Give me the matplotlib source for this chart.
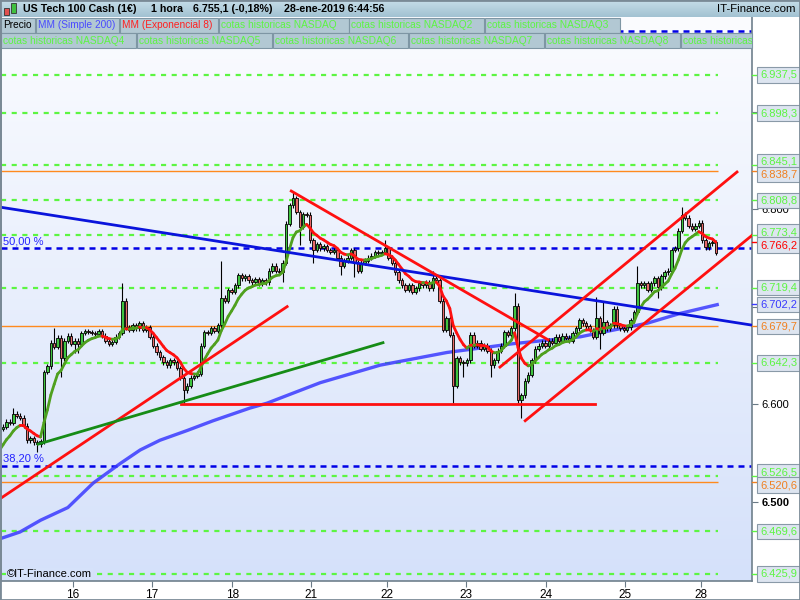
import numpy as np
import pandas as pd
import matplotlib
matplotlib.use('Agg')
import matplotlib.pyplot as plt
import matplotlib.transforms as mtrans
from matplotlib.patches import Rectangle
from matplotlib.collections import LineCollection
from matplotlib.colors import LinearSegmentedColormap

plt.rcParams['font.family'] = ['Liberation Sans', 'DejaVu Sans']

# hourly closes, US Tech 100 Cash, 16-28 ene 2019 (open = previous close)
closes = [6577, 6582, 6581, 6590, 6588, 6586, 6578, 6563, 6565, 6561,
          6559, 6562, 6633, 6639, 6663, 6659, 6668, 6647, 6665, 6670,
          6662, 6665, 6662, 6673, 6675, 6674, 6673, 6672, 6675, 6670,
          6665, 6662, 6664, 6669, 6673, 6706, 6679, 6676, 6681, 6678,
          6683, 6676, 6679, 6669, 6660, 6653, 6648, 6643, 6640, 6645,
          6643, 6637, 6627, 6614, 6619, 6627, 6629, 6631, 6660, 6674,
          6673, 6678, 6675, 6681, 6709, 6706, 6717, 6715, 6722, 6732,
          6729, 6731, 6727, 6725, 6728, 6724, 6727, 6725, 6737, 6742,
          6737, 6735, 6745, 6785, 6804, 6811, 6797, 6782, 6795, 6794,
          6768, 6758, 6764, 6760, 6762, 6758, 6756, 6758, 6750, 6742,
          6747, 6750, 6758, 6745, 6737, 6745, 6747, 6750, 6752, 6756,
          6755, 6756, 6760, 6750, 6745, 6735, 6727, 6722, 6717, 6722,
          6715, 6719, 6724, 6722, 6725, 6719, 6729, 6727, 6706, 6676,
          6688, 6671, 6619, 6647, 6643, 6642, 6645, 6671, 6660, 6663,
          6657, 6660, 6655, 6640, 6645, 6655, 6660, 6674, 6671, 6678,
          6701, 6604, 6609, 6624, 6630, 6645, 6657, 6660, 6663, 6660,
          6665, 6663, 6669, 6665, 6670, 6668, 6665, 6673, 6678, 6686,
          6683, 6680, 6676, 6669, 6688, 6673, 6684, 6678, 6681, 6698,
          6681, 6678, 6676, 6679, 6686, 6694, 6724, 6722, 6724, 6717,
          6724, 6729, 6720, 6731, 6735, 6737, 6758, 6760, 6778, 6794,
          6791, 6783, 6780, 6783, 6786, 6768, 6761, 6765, 6766, 6755]
first_open = 6575
# long wicks (bar index -> price)
wick_high = {3: 6596, 15: 6678, 35: 6724, 64: 6747, 85: 6817, 112: 6768,
             126: 6737, 150: 6714, 174: 6710, 176: 6706, 186: 6742, 199: 6802}
wick_low = {10: 6551, 17: 6628, 21: 6652, 22: 6652, 53: 6601, 82: 6725,
            87: 6763, 91: 6745, 99: 6732, 103: 6730, 132: 6601, 135: 6628,
            143: 6628, 152: 6586, 175: 6657, 192: 6709}
ema_seed = 6553

# MM simple 200
sma_bar = [-0.9, 5, 11, 19, 26.4, 34.3, 40.2, 46, 54, 61.6, 72.4, 77.4,
           93, 110.6, 130.2, 149.6, 169.2, 188.9, 198.5, 209.4]
sma_val = [6462, 6469, 6481, 6494, 6519, 6539, 6553, 6563, 6573, 6583, 6596, 6601,
           6622, 6640, 6653, 6662, 6669, 6683, 6693, 6702]

day_ticks = [20.5, 43.7, 67.2, 90.3, 112.6, 135.8, 159.2, 182.4, 204.7]
day_labels = ['16', '17', '18', '21', '22', '23', '24', '25', '28']

green_levels = [6937.5, 6898.3, 6845.1, 6808.8, 6773.4, 6719.4, 6642.3, 6526.5, 6469.6, 6425.9]
orange_levels = [6838.7, 6679.7, 6520.6]
fib_levels = [6982.6, 6759.7, 6536.9]
fib_names = ['', '50,00 %', '38,20 %']   # 61,8 % label is hidden under the legend

trend_bars = [(-0.9, 219.6), (-0.9, 83.3), (84.5, 159.8), (52.2, 173.6),
              (145.7, 215.2), (153.1, 219.6), (10.3, 111.4)]
trend_prices = [(6802, 6681), (6503, 6700), (6818.5, 6666), (6600, 6600),
                (6638, 6838), (6583, 6773), (6559, 6663)]
trend_kind = ['blue', 'red', 'red', 'red', 'red', 'red', 'green']

last_sma = 6702.2
last_ema = 6766.2

GREEN_LV = '#5cf542'
col_kind = {'blue': '#0a14dc', 'red': '#ff1010', 'green': '#168c16'}


def fmt(v, dec=1):
    s = f"{v:,.{dec}f}"
    return s.replace(',', 'X').replace('.', ',').replace('X', '.')


fig = plt.figure(figsize=(8, 6), dpi=100)
fig.patch.set_facecolor('white')
ax = fig.add_axes([1 / 800, 19 / 600, 751 / 800, 564 / 600])
x0, x1 = -0.6, 219.6
y0, y1 = 6418.7, 6996.9

# background gradient
bg = LinearSegmentedColormap.from_list('bg', ['#fbfcff', '#d5e1fa'])
ax.imshow(np.linspace(0, 1, 256).reshape(-1, 1), cmap=bg, aspect='auto',
          extent=[x0, x1, y0, y1], zorder=0)

n = len(closes)
x = np.arange(n)
o = np.array([first_open] + closes[:-1], float)
c = np.array(closes, float)
hi = np.array([wick_high.get(i, max(o[i], c[i]) + 2.5) for i in range(n)])
lo = np.array([wick_low.get(i, min(o[i], c[i]) - 2.5) for i in range(n)])
up = c >= o

# levels
for lvl in green_levels:
    ax.plot([x0, n - 0.5], [lvl, lvl], color=GREEN_LV, lw=1.6,
            ls=(0, (2.3, 2.5)), zorder=1.5)
ax.hlines(orange_levels, x0, n - 0.5, colors='#ff8a1e', lw=1, zorder=1.6)
for lvl, name in zip(fib_levels, fib_names):
    ax.axhline(lvl, color='#0000e6', lw=1.8, ls=(0, (2.4, 2.0)), zorder=1.7)
    if name:
        ax.annotate(name, xy=(0, lvl), xycoords=('axes fraction', 'data'),
                    xytext=(1.5, 1.5), textcoords='offset points', fontsize=8,
                    color='#2424ff', va='bottom', zorder=2)

# SMA 200
ax.plot(sma_bar, sma_val, color='#3a3aff', lw=2.4, alpha=0.85, zorder=2.5)

# candles
ax.vlines(x, lo, hi, color='black', lw=0.8, zorder=3)
ax.bar(x, np.maximum(np.abs(c - o), 0.8), bottom=np.minimum(o, c), width=0.72,
       color=np.where(up, '#3fc43f', '#e86a6a'), edgecolor='black',
       linewidth=0.6, zorder=3.1)

# EMA 8, green rising / red falling
ema = pd.Series([ema_seed] + closes, dtype=float).ewm(span=8, adjust=False).mean().to_numpy()
pts = np.column_stack([np.arange(-1, n), ema])
segs = np.stack([pts[:-1], pts[1:]], axis=1)
cols = np.where(np.diff(ema) >= 0, '#4fa01e', '#ff1010')
ax.add_collection(LineCollection(segs, colors=cols, lw=2, zorder=4, capstyle='round'))

# trendlines
for b, p, k in zip(trend_bars, trend_prices, trend_kind):
    ax.plot(b, p, color=col_kind[k], lw=2, zorder=5)

ax.text(1.2, 6425.9, '\u00a9IT-Finance.com', fontsize=8, va='center', zorder=6,
        bbox=dict(fc='#d6e2fa', ec='none', pad=0.5))

ax.set_xlim(x0, x1)
ax.set_ylim(y0, y1)
ax.set_xticks(day_ticks)
ax.set_xticklabels(day_labels, fontsize=8.5)
ax.tick_params(axis='x', length=4, color='#6a7a86', pad=2)
ax.yaxis.tick_right()
yt = [6500, 6600, 6700, 6800, 6900]
ax.set_yticks(yt)
# 6.700 / 6.900 sit under the value boxes, only the marks show
ax.set_yticklabels([fmt(v, 0) if v in (6500, 6600, 6800) else '' for v in yt], fontsize=8)
ax.get_yticklabels()[0].set_fontweight('bold')
ax.tick_params(axis='y', length=4, color='#6a7a86', pad=3)
ax.spines['top'].set_visible(False)
for s in ['left', 'bottom', 'right']:
    ax.spines[s].set_color('#6f808c')
    ax.spines[s].set_linewidth(1.2)

# right-hand value boxes
labels = [(v, GREEN_LV) for v in green_levels] + [(v, '#f08020') for v in orange_levels]
labels += [(last_sma, '#3a3aff'), (last_ema, '#ff0000')]
labels.sort(key=lambda t: -t[0])
ppd = 564 / (y1 - y0)
true_px = [(y1 - v) * ppd for v, _ in labels]
pos = list(true_px)
for _ in range(20):
    for j in range(len(pos) - 1):
        if pos[j + 1] - pos[j] < 13:
            mid = (pos[j] + pos[j + 1]) / 2
            pos[j], pos[j + 1] = mid - 6.5, mid + 6.5
blend = mtrans.blended_transform_factory(ax.transAxes, ax.transData)
for (v, col), tp, pp in zip(labels, true_px, pos):
    ax.plot([1, 1 + 6 / 751], [v, v], transform=blend, color=col, lw=1,
            clip_on=False, zorder=6)
    ax.annotate(fmt(v), xy=(1, v), xycoords=('axes fraction', 'data'),
                xytext=(5.8, (tp - pp) * 0.72), textcoords='offset points',
                fontsize=8, color=col, va='center', ha='left', zorder=7,
                annotation_clip=False,
                bbox=dict(boxstyle='square,pad=0.25', fc='#dde5f0', ec='#8a9aa8', lw=0.8))

# header bar
hdr = fig.add_axes([0, 583 / 600, 1, 17 / 600])
hc = LinearSegmentedColormap.from_list('hdr', ['#c6dde8', '#a2c2d2'])
hdr.imshow(np.linspace(0, 1, 32).reshape(-1, 1), cmap=hc, aspect='auto', extent=[0, 1, 0, 1])
hdr.set_xlim(0, 1)
hdr.set_ylim(0, 1)
hdr.axis('off')


def fx(px):
    return px / 800


def fy(py):
    return 1 - py / 600


fig.add_artist(Rectangle((fx(4), fy(15)), 5 / 800, 7 / 600, transform=fig.transFigure,
                         fc='#e05050', ec='#333333', lw=0.6, zorder=8))
fig.add_artist(Rectangle((fx(11), fy(13)), 5 / 800, 10 / 600, transform=fig.transFigure,
                         fc='#40c040', ec='#333333', lw=0.6, zorder=8))
for px, txt in [(23, 'US Tech 100 Cash (1\u20ac)'), (151, '1 hora'),
                (193, '6.755,1 (-0,18%)'), (284, '28-ene-2019 6:44:56')]:
    fig.text(fx(px), fy(9), txt, fontsize=7.7, fontweight='bold', va='center', zorder=8)
fig.text(fx(795), fy(9), 'IT-Finance.com', fontsize=8.2, va='center', ha='right', zorder=8)

# legend rows
legend_boxes = [(1, 35, 0, 'Precio', 'black'),
                (36, 119, 0, 'MM (Simple 200)', '#4a4aff'),
                (120, 218, 0, 'MM (Exponencial 8)', '#ff2020'),
                (219, 349, 0, 'cotas historicas NASDAQ', GREEN_LV),
                (349, 484, 0, 'cotas historicas NASDAQ2', GREEN_LV),
                (485, 620, 0, 'cotas historicas NASDAQ3', GREEN_LV),
                (1, 136, 1, 'cotas historicas NASDAQ4', GREEN_LV),
                (137, 272, 1, 'cotas historicas NASDAQ5', GREEN_LV),
                (273, 408, 1, 'cotas historicas NASDAQ6', GREEN_LV),
                (409, 544, 1, 'cotas historicas NASDAQ7', GREEN_LV),
                (545, 680, 1, 'cotas historicas NASDAQ8', GREEN_LV),
                (681, 752, 1, 'cotas historicas NASDAQ9', GREEN_LV)]
for a, b, row, txt, col in legend_boxes:
    top = 18 + row * 15
    r = Rectangle((fx(a), fy(top + 15)), (b - a) / 800, 15 / 600, transform=fig.transFigure,
                  fc='#b2c8d3', ec='#7e96a4', lw=0.8, zorder=8)
    fig.add_artist(r)
    t = fig.text(fx(a + 2), fy(top + 7.5), txt, fontsize=7.3, color=col, va='center', zorder=9)
    t.set_clip_path(r)

fig.add_artist(Rectangle((0, 0), 1, 1, transform=fig.transFigure, fill=False,
                         ec='#7a8a96', lw=2, zorder=10))

fig.savefig('out.png', dpi=100)
